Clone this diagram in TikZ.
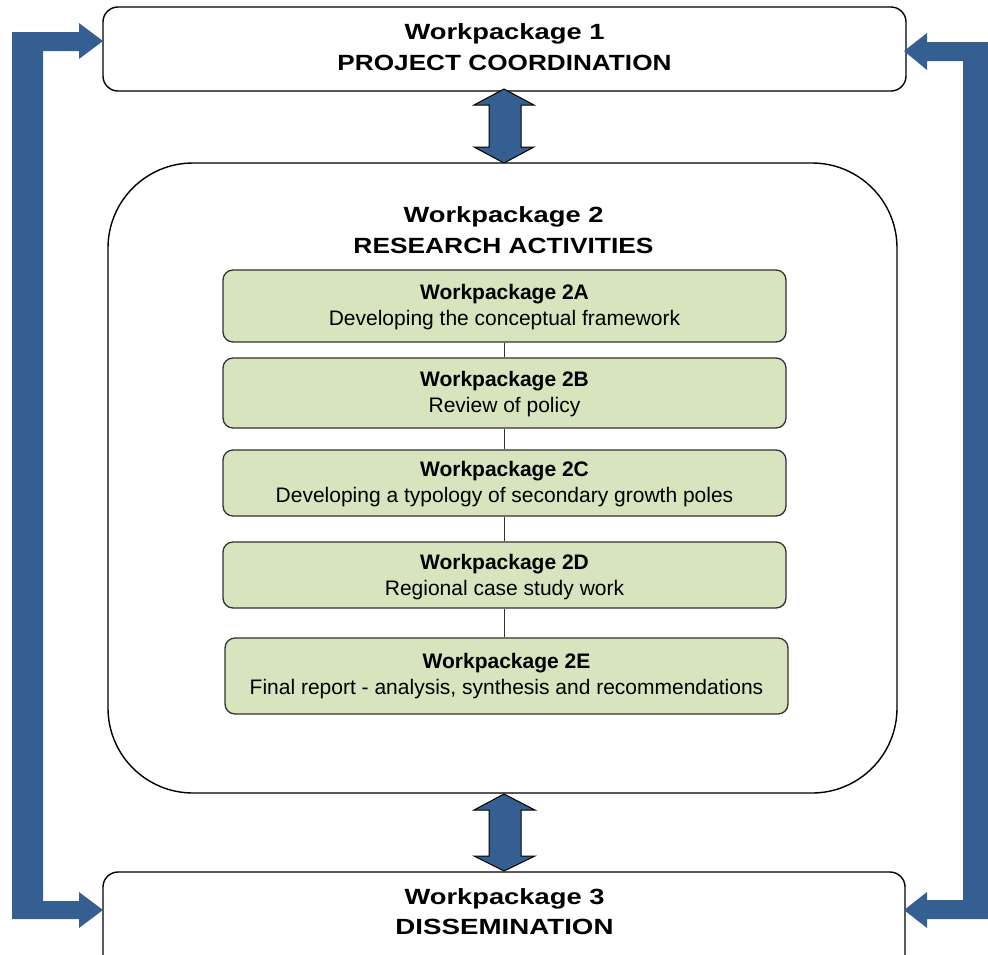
\documentclass[tikz,border=0pt]{standalone}
\usepackage{fontspec}
\setmainfont{Liberation Sans}
\usepackage{graphicx}
\definecolor{arrowblue}{RGB}{54,95,145}
\definecolor{wpgreen}{RGB}{215,228,189}
\definecolor{gborder}{RGB}{50,50,50}
\newcommand{\hw}[2]{\resizebox{#1pt}{\height}{#2}}
\begin{document}
\begin{tikzpicture}[x=1pt,y=-1pt,
  outerbox/.style={draw=black, line width=1.4pt, fill=white},
  gbox/.style={draw=gborder, line width=1.3pt, rounded corners=10pt, fill=wpgreen,
    minimum width=563pt, inner sep=0pt, align=center,
    font=\fontsize{21}{26}\selectfont},
  gtext/.style={inner sep=0pt, align=center, font=\fontsize{21}{26}\selectfont},
  head/.style={inner sep=0pt, font=\fontsize{22}{29}\selectfont\bfseries},
  bluearrow/.style={fill=arrowblue, draw=none},
  dblarrow/.style={fill=arrowblue, draw=black, line width=1pt, line join=miter},
  link/.style={draw=gborder, line width=1.2pt}]
\useasboundingbox (0,0) rectangle (988,954);

% outer boxes
\draw[outerbox, rounded corners=15pt] (103,7) rectangle (906,91);
\draw[outerbox, rounded corners=85pt] (108,163) rectangle (897,793);
\draw[outerbox, rounded corners=15pt] (103,872) rectangle (905,985);

\node[head] (wp1a) at (504.5,33.5) {\hw{200}{Workpackage 1}};
\node[head] (wp1b) at (504.5,62.5) {\hw{334}{PROJECT COORDINATION}};
\node[head] (wp2a) at (503.5,216.5) {\hw{200}{Workpackage 2}};
\node[head] (wp2b) at (503.5,245.5) {\hw{300}{RESEARCH ACTIVITIES}};
\node[head] (wp3a) at (504.5,898.5) {\hw{200}{Workpackage 3}};
\node[head] (wp3b) at (504.5,926.5) {\hw{218}{DISSEMINATION}};

% green boxes
\node[gbox, minimum height=72pt] (a) at (504.5,306) {};
\node[gbox, minimum height=70pt] (b) at (504.5,393) {};
\node[gbox, minimum height=66pt] (c) at (504.5,483) {};
\node[gbox, minimum height=66pt] (d) at (504.5,575) {};
\node[gbox, minimum height=76pt] (e) at (506.5,676) {};

\node[gtext] (at) at ([yshift=-1.5pt]a.center) {\textbf{Workpackage 2A}\\Developing the conceptual framework};
\node[gtext] (bt) at ([yshift=-1.5pt]b.center) {\textbf{Workpackage 2B}\\Review of policy};
\node[gtext] (ct) at ([yshift=-1.5pt]c.center) {\textbf{Workpackage 2C}\\Developing a typology of secondary growth poles};
\node[gtext] (dt) at ([yshift=-2pt]d.center) {\textbf{Workpackage 2D}\\Regional case study work};
\node[gtext] (et) at ([yshift=-0.5pt]e.center) {\textbf{Workpackage 2E}\\Final report - analysis, synthesis and recommendations};

\draw[link] (a.south) -- (b.north);
\draw[link] (b.south) -- (c.north);
\draw[link] (c.south) -- (d.north);
\draw[link] (d.south) -- (d.south |- e.north);

% double arrows
\draw[dblarrow] (504,89) -- (534,105) -- (521,105) -- (521,147) -- (534,147) -- (504,163)
  -- (474,147) -- (489,147) -- (489,105) -- (474,105) -- cycle;
\draw[dblarrow] (504,794) -- (535,810) -- (521,810) -- (521,856) -- (535,856) -- (504,871)
  -- (474,856) -- (489,856) -- (489,810) -- (474,810) -- cycle;

% left feedback arrow
\fill[bluearrow] (12,32) -- (79,32) -- (79,23) -- (103,41) -- (79,59) -- (79,51) -- (43,51)
  -- (43,901) -- (79,901) -- (79,892) -- (103,910) -- (79,928) -- (79,919) -- (12,919) -- cycle;
% right feedback arrow
\fill[bluearrow] (988,42) -- (927,42) -- (927,33) -- (904,51) -- (927,70) -- (927,61) -- (963,61)
  -- (963,900) -- (927,900) -- (927,892) -- (904,910) -- (927,928) -- (927,919) -- (988,919) -- cycle;
\end{tikzpicture}
\end{document}
